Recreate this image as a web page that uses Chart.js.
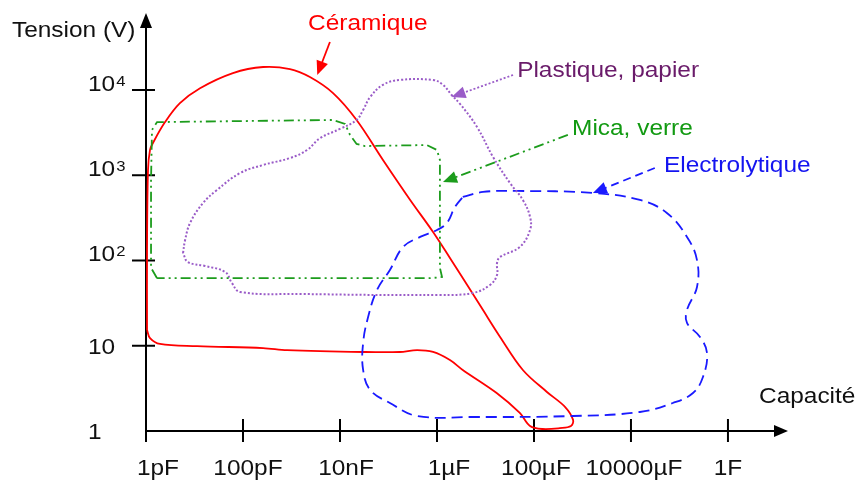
<!DOCTYPE html>
<html>
<head>
<meta charset="utf-8">
<script src="https://cdn.jsdelivr.net/npm/chart.js@4.4.1/dist/chart.umd.min.js"></script>
<style>
html,body{margin:0;padding:0;background:#fff;}
#wrap{width:858px;height:481px;position:relative;}
</style>
</head>
<body>
<div id="wrap"><canvas id="c" width="858" height="481"></canvas></div>
<script>
// ---- Axis ticks ----
const xTickValues = [1e-12, 1e-10, 1e-8, 1e-6, 1e-4, 1e-2, 1];
const xTickLabels = ['1pF', '100pF', '10nF', '1\u00B5F', '100\u00B5F', '10000\u00B5F', '1F'];
const yTickValues = [1, 10, 100, 1000, 10000];
const yTickLabels = ['1', '10', '10^2', '10^3', '10^4'];

// ---- Regions (capacitance in F, voltage in V) ----
const ceramicC = [1.05e-12,1.05e-12,1.1e-12,1.21e-12,1.39e-12,2.47e-12,5.0e-12,1.3e-11,6.2e-11,2.6e-10,9.3e-10,2.4e-9,7.2e-9,2.2e-8,7.7e-8,2.8e-7,8.3e-7,1.85e-6,4.2e-6,8.9e-6,2.0e-5,5.9e-5,1.85e-4,4.4e-4,6.4e-4,5.8e-4,3.4e-4,1.5e-4,8.3e-5,5.1e-5,1.7e-5,3.4e-6,1.85e-6,8.3e-7,3.9e-7,1.7e-7,3.0e-8,8.1e-10,2.6e-10,1.13e-11,1.94e-12,1.21e-12,1.05e-12];
const ceramicV = [15.3,133,1150,1980,2390,4200,7000,10500,15800,18600,17600,14200,9200,4450,1510,513,216,107,51.6,26.2,12.7,5.2,2.87,1.91,1.35,1.145,1.08,1.055,1.145,1.63,2.79,5.2,6.8,8.45,8.9,8.45,8.45,8.9,9.4,9.9,10.5,12.3,15.3];

const micaC = [1.69e-12,1.27e-12,1.27e-12,1.33e-12,1.69e-12,7.2e-9,1.27e-8,1.61e-8,2.2e-8,3.27e-8,6.2e-7,1.0e-6,1.15e-6,1.15e-6,1.27e-6,7.2e-7,1.69e-12];
const micaV = [62,82,880,3400,4200,4450,4000,2970,2330,2200,2260,1980,1510,82,64,62,62];

const plasticC = [5.8e-12,6.4e-12,8.1e-12,1.5e-11,2.9e-11,8.7e-11,2.6e-10,9.3e-10,2.1e-9,3.9e-9,1.0e-8,2.2e-8,3.0e-8,4.2e-8,7.7e-8,1.7e-7,8.3e-7,1.33e-6,2.0e-6,3.0e-6,6.7e-6,1.43e-5,3.2e-5,5.9e-5,8.3e-5,8.3e-5,5.1e-5,2.0e-5,1.73e-5,1.73e-5,1.24e-5,5.5e-6,1.15e-6,1.5e-9,8.7e-11,5.9e-11,4.3e-11,1.65e-11,7.3e-12,5.8e-12];
const plasticV = [122,174,275,472,671,1060,1320,1590,1980,2730,3490,4450,5830,8270,11500,13100,13100,11500,8740,6850,3680,1640,811,513,324,228,144,110,93.5,67.6,51.6,41.6,39.4,40.5,42.7,54.5,73.3,86.2,96,122];

const electroC = [3.4e-6,8.9e-6,4.5e-5,1.64e-3,1.53e-2,5.5e-2,0.143,0.23,0.23,0.143,0.143,0.265,0.37,0.305,0.19,7.3e-2,1.53e-2,6.4e-4,5.5e-6,3.9e-7,1.07e-7,4.2e-8,3.0e-8,3.0e-8,3.8e-8,5.8e-8,1.07e-7,2.0e-7,4.5e-7,1.0e-6,1.6e-6,2.35e-6,3.4e-6];
const electroV = [556,637,654,619,513,361,189,101,48.9,26.3,18.5,12.7,8.2,4.3,2.79,2.13,1.67,1.50,1.46,1.50,2.13,3.03,5.2,10.8,21.7,45.1,77.4,144,189,228,275,424,556];

// ---- Labels with arrows (anchors in data coordinates) ----
const regionNames = ['C\u00E9ramique', 'Plastique, papier', 'Mica, verre', 'Electrolytique'];

const RED = '#ff0000', GREEN = '#1c9c1c', PURPLE = '#9a5cc8', BLUE = '#1a1aff';
const FONT = "'Liberation Sans', Arial, sans-serif";
const SX = 1.11;
// small horizontal nudges of the x tick labels (px), as in the original drawing
const xLabelNudge = [12, 5, 6, 12, 2, 3, 0];

function pts(cs, vs) { return cs.map((c, i) => ({ x: c, y: vs[i] })); }

const annotations = [
  { text: regionNames[0], color: RED, line: RED, dash: [], tx: 2.2e-9, ty: 50600, from: [6.2e-9, 36600], to: [3.4e-9, 15000] },
  { text: regionNames[1], color: '#6a1b6a', line: PURPLE, dash: [2, 2], tx: 4.5e-5, ty: 14200, from: [3.7e-5, 15000], to: [2.0e-6, 8270] },
  { text: regionNames[2], color: '#129a12', line: GREEN, dash: [10, 4, 2, 4, 2, 4], tx: 6.1e-4, ty: 2970, from: [5.0e-4, 2970], to: [1.33e-6, 834] },
  { text: regionNames[3], color: '#1414f0', line: BLUE, dash: [8, 5], tx: 4.8e-2, ty: 1092, from: [3.1e-2, 1217], to: [1.64e-3, 619] }
];

function sText(ctx, str, x, y, align, font, color) {
  ctx.save();
  ctx.font = font;
  ctx.fillStyle = color;
  ctx.textBaseline = 'alphabetic';
  const w = ctx.measureText(str).width * SX;
  let x0 = x;
  if (align === 'center') x0 = x - w / 2;
  else if (align === 'right') x0 = x - w;
  ctx.translate(x0, y);
  ctx.scale(SX, 1);
  ctx.textAlign = 'left';
  ctx.fillText(str, 0, 0);
  ctx.restore();
  return w;
}

function arrowHead(ctx, x1, y1, x2, y2, len, half, color) {
  const a = Math.atan2(y2 - y1, x2 - x1);
  ctx.save();
  ctx.fillStyle = color;
  ctx.beginPath();
  ctx.moveTo(x2, y2);
  ctx.lineTo(x2 - len * Math.cos(a) + half * Math.sin(a), y2 - len * Math.sin(a) - half * Math.cos(a));
  ctx.lineTo(x2 - len * Math.cos(a) - half * Math.sin(a), y2 - len * Math.sin(a) + half * Math.cos(a));
  ctx.closePath();
  ctx.fill();
  ctx.restore();
}

const axesPlugin = {
  id: 'axesPlugin',
  beforeDatasetsDraw(chart) {
    const { ctx, chartArea: a, scales: { x, y } } = chart;
    ctx.save();
    ctx.strokeStyle = '#000';
    ctx.lineWidth = 2;
    ctx.setLineDash([]);
    ctx.beginPath();
    ctx.moveTo(a.left, a.bottom);
    ctx.lineTo(a.left, a.top + 10);
    ctx.stroke();
    ctx.beginPath();
    ctx.moveTo(a.left, a.bottom);
    ctx.lineTo(a.right - 10, a.bottom);
    ctx.stroke();
    xTickValues.forEach(v => {
      const px = x.getPixelForValue(v);
      ctx.beginPath();
      ctx.moveTo(px, a.bottom - 12);
      ctx.lineTo(px, a.bottom + 11);
      ctx.stroke();
    });
    yTickValues.forEach(v => {
      if (v === yTickValues[0]) return;
      const py = y.getPixelForValue(v);
      ctx.beginPath();
      ctx.moveTo(a.left - 14, py);
      ctx.lineTo(a.left + 9, py);
      ctx.stroke();
    });
    ctx.restore();
    arrowHead(ctx, a.left, a.bottom, a.left, a.top, 15, 6, '#000');
    arrowHead(ctx, a.left, a.bottom, a.right, a.bottom, 14, 6, '#000');
  },
  afterDatasetsDraw(chart) {
    const { ctx, chartArea: a, scales: { x, y } } = chart;
    const f = '22px ' + FONT;
    sText(ctx, 'Tension (V)', 12, 37, 'left', f, '#111');
    sText(ctx, 'Capacit\u00E9', 759, 403, 'left', f, '#111');
    xTickValues.forEach((v, i) => {
      const px = x.getPixelForValue(v);
      sText(ctx, xTickLabels[i], px + xLabelNudge[i], a.bottom + 44, 'center', f, '#111');
    });
    yTickValues.forEach((v, i) => {
      const py = y.getPixelForValue(v);
      const lab = yTickLabels[i];
      if (lab.indexOf('^') >= 0) {
        const parts = lab.split('^');
        const w = sText(ctx, parts[0], 88, py + 1, 'left', f, '#111');
        sText(ctx, parts[1], 88 + w + 1, py - 4, 'left', '15px ' + FONT, '#111');
      } else {
        sText(ctx, lab, 88, py + 8, 'left', f, '#111');
      }
    });
    annotations.forEach(an => {
      const x1 = x.getPixelForValue(an.from[0]), y1 = y.getPixelForValue(an.from[1]);
      const x2 = x.getPixelForValue(an.to[0]), y2 = y.getPixelForValue(an.to[1]);
      const ang = Math.atan2(y2 - y1, x2 - x1);
      ctx.save();
      ctx.strokeStyle = an.line;
      ctx.lineWidth = 1.8;
      ctx.setLineDash(an.dash);
      ctx.beginPath();
      ctx.moveTo(x1, y1);
      ctx.lineTo(x2 - 12 * Math.cos(ang), y2 - 12 * Math.sin(ang));
      ctx.stroke();
      ctx.restore();
      arrowHead(ctx, x1, y1, x2, y2, 14, 6, an.line);
      sText(ctx, an.text, x.getPixelForValue(an.tx), y.getPixelForValue(an.ty), 'left', f, an.color);
    });
  }
};

const common = { showLine: true, fill: false, pointRadius: 0, pointHoverRadius: 0, clip: false };

new Chart(document.getElementById('c'), {
  type: 'scatter',
  data: {
    datasets: [
      Object.assign({ label: regionNames[2], data: pts(micaC, micaV), borderColor: GREEN, borderWidth: 1.8, borderDash: [10, 4, 2, 4, 2, 4], tension: 0 }, common),
      Object.assign({ label: regionNames[1], data: pts(plasticC, plasticV), borderColor: PURPLE, borderWidth: 2, borderDash: [2, 2], tension: 0.4 }, common),
      Object.assign({ label: regionNames[3], data: pts(electroC, electroV), borderColor: BLUE, borderWidth: 1.8, borderDash: [11, 6], tension: 0.4 }, common),
      Object.assign({ label: regionNames[0], data: pts(ceramicC, ceramicV), borderColor: RED, borderWidth: 1.8, borderDash: [], tension: 0.35 }, common)
    ]
  },
  options: {
    responsive: false,
    animation: false,
    devicePixelRatio: 1,
    layout: { padding: { left: 146, right: 70, top: 13, bottom: 50 } },
    plugins: { legend: { display: false }, tooltip: { enabled: false } },
    events: [],
    scales: {
      x: { type: 'logarithmic', display: false, min: 1e-12, max: 17.3, bounds: 'data' },
      y: { type: 'logarithmic', display: false, min: 1, max: 80000, bounds: 'data' }
    }
  },
  plugins: [axesPlugin]
});
</script>
</body>
</html>
